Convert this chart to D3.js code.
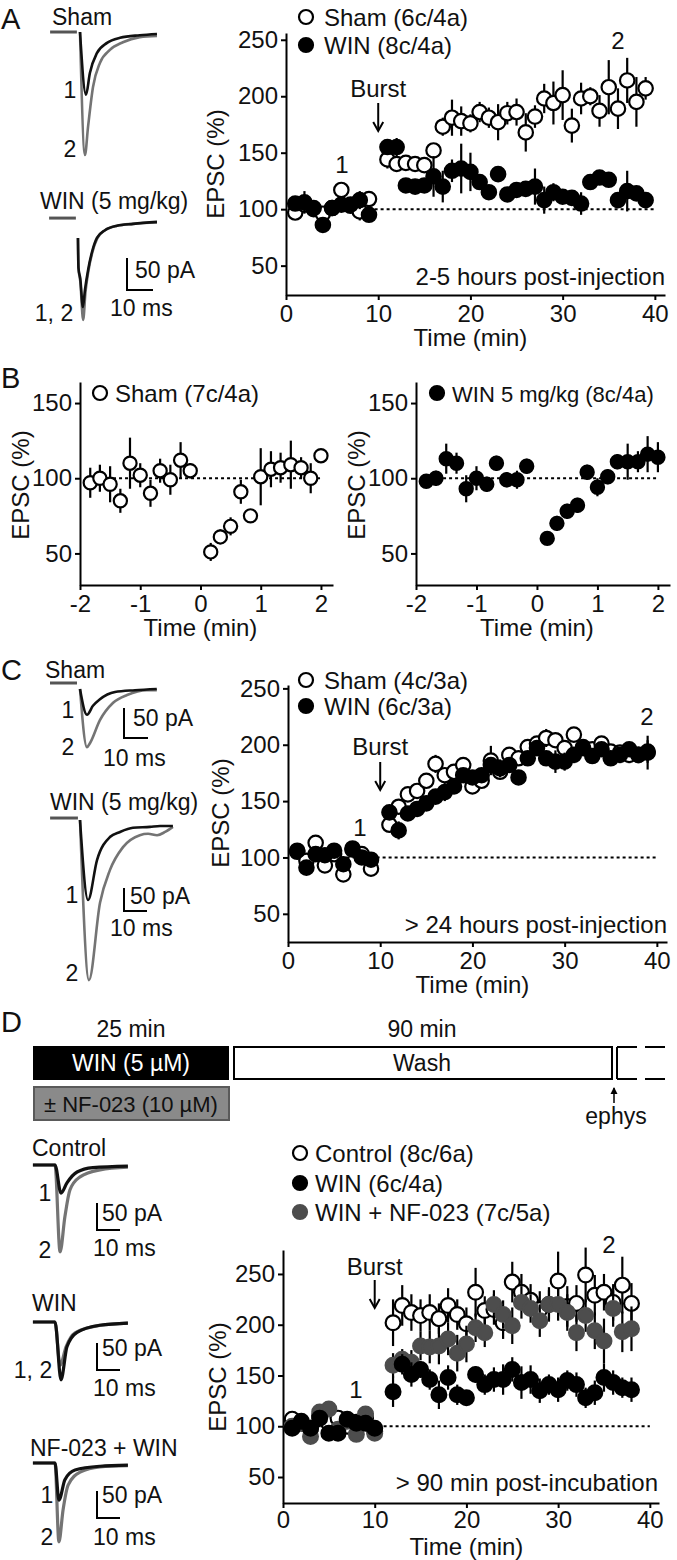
<!DOCTYPE html>
<html><head><meta charset="utf-8">
<script src="https://cdn.jsdelivr.net/npm/d3@7"></script>
<style>
body{margin:0;background:#fff;}
svg text{font-family:"Liberation Sans",Arial,Helvetica,sans-serif;fill:#111;}
</style></head><body>
<svg id="fig" width="677" height="1560" xmlns="http://www.w3.org/2000/svg"></svg>
<script>
// ---------------- DATA ----------------
// Panel A (2-5 h post-injection)
const timeA = [1,2,3,4,5,6,7,8,9,11,12,13,14,15,16,17,18,19,20,21,22,23,24,25,26,27,28,29,30,31,32,33,34,35,36,37,38,39];
const shamA = [97,104,100,96,101,117,103,98,109,144,140,141,140,139,152,173,181,178,176,186,181,177,185,186,168,182,198,194,201,174,198,200,187,208,189,214,195,207];
const shamAerr = [4,5,5,4,5,5,5,8,6,8,7,6,6,5,5,8,16,13,8,9,9,16,10,12,17,10,13,19,22,15,14,8,14,24,18,20,22,10];
const winA = [105,106,101,86,101,104,104,108,95,155,155,121,120,121,129,120,134,136,133,124,115,131,113,117,118,120,108,115,111,110,105,124,128,126,108,116,114,108];
const winAerr = [6,10,6,5,5,6,6,8,6,6,8,5,5,5,18,14,10,22,17,6,6,5,5,6,5,16,12,8,6,6,10,6,6,5,5,18,5,5];
// Panel B (burst time course)
const timeB = [-1.83,-1.67,-1.5,-1.33,-1.17,-1,-0.83,-0.67,-0.5,-0.33,-0.17,0.17,0.33,0.5,0.67,0.83,1,1.17,1.33,1.5,1.67,1.83,2];
const shamB = [97,100,96,85,110,102,90,105,99,112,105,51,61,68,91,75,101,106,107,109,107,100,115];
const shamBerr = [10,9,12,8,17,8,9,8,10,12,5,6,5,6,8,4,19,12,10,16,7,10,4];
const winB = [98,100,113,110,93,100,96,110,99,99,108,60,70,78,82,104,94,101,111,111,111,116,114];
const winBerr = [4,5,10,7,9,8,5,5,5,6,5,4,5,5,5,5,6,5,5,12,7,12,10];
// Panel C (>24 h post-injection)
const timeC = timeA;
const shamC = [105,97,113,93,103,85,108,103,90,129,145,156,159,168,183,173,176,182,163,168,186,176,191,188,198,201,206,204,197,209,198,196,201,194,193,191,191,193];
const shamCerr = [4,4,6,4,4,6,4,4,4,5,4,4,4,4,8,5,4,4,4,4,13,5,4,4,4,4,8,5,4,4,4,4,4,4,4,4,4,15];
const winC = [106,91,103,102,106,94,107,100,98,140,124,139,143,148,154,158,163,173,171,173,182,179,182,171,188,197,188,185,185,191,197,190,196,188,191,196,191,194];
const winCerr = [4,6,4,4,4,5,4,4,4,5,8,4,4,4,4,8,4,4,4,4,5,8,4,4,4,4,5,10,8,4,4,4,4,4,4,4,4,10];
// Panel D (>90 min post-incubation)
const timeD = [1,2,3,4,5,6,7,8,9,10,12,13,14,15,16,17,18,19,20,21,22,23,24,25,26,27,28,29,30,31,32,33,34,35,36,37,38];
const ctrlD = [107,103,98,110,103,108,100,104,108,95,202,219,212,209,212,206,219,210,201,232,214,215,202,242,232,224,215,220,243,218,221,249,229,232,222,239,221];
const ctrlDerr = [5,4,4,5,4,5,4,4,5,5,23,20,18,16,18,15,17,15,16,24,14,15,16,20,18,16,18,17,29,20,18,27,20,18,18,28,20];
const winD = [98,105,98,108,93,93,107,103,103,98,134,161,151,156,146,131,148,131,128,151,141,146,146,156,143,146,135,141,136,145,141,128,133,148,143,138,136];
const winDerr = [4,4,4,5,4,4,5,4,4,4,15,10,12,8,10,14,12,10,6,8,10,12,15,12,16,14,12,10,12,10,12,10,12,14,12,10,12];
const nfD = [100,103,90,114,117,97,105,92,112,93,160,166,163,179,178,179,186,172,181,197,192,220,210,199,222,216,204,220,220,212,192,209,194,184,216,193,196];
const nfDerr = [5,5,5,6,6,5,5,5,6,5,12,10,12,14,16,18,16,18,18,14,14,14,14,18,16,14,16,14,16,18,18,16,18,22,18,20,22];
// tick labels
const ticksTime = [0,10,20,30,40];
const ticksEPSC = [50,100,150,200,250];
const ticksTimeB = [-2,-1,0,1,2];
const ticksEPSCB = [50,100,150];
// schematic (panel D) durations
const protocolLabels = ["25 min","90 min"];
// Example EPSC traces: [time (ms), amplitude (pA, inward shown downward)]
const trA_sham1 = [[0,0],[2.3,98],[3.8,64],[6.5,33],[10.4,17],[15.4,9],[23,5],[29.6,3]];
const trA_sham2 = [[0,0],[1.9,192],[3.1,148],[5,86],[7.7,48],[11.5,28],[16.5,16],[23,8],[29.6,6]];
const trA_win1 = [[-0.4,28],[-0.2,75],[0.5,92],[1.5,136],[2.3,109],[3.5,78],[5,50],[6.9,28],[10,16],[14.6,9],[20.8,6],[30,3]];
const trA_win2 = [[-0.4,28],[-0.2,75],[0.5,96],[1.6,156],[2.5,112],[3.6,80],[5.1,51],[7,29],[10,16],[14.6,9],[20.8,6],[30,4]];
const trC_sham1 = [[0,0],[2.9,43],[5.4,28],[8.3,17],[14.6,5],[22.9,2],[32,0]];
const trC_sham2 = [[0,0],[2.9,97],[4.2,90],[8.3,52],[13.8,23],[19.6,10],[27.9,2],[32,2]];
const trC_win1 = [[0,0],[3.5,174],[7.4,87],[13,37],[17.4,26],[23,17],[30.4,15],[34.8,13],[40.4,13]];
const trC_win2 = [[0,0],[3.9,348],[8.7,180],[13,109],[18.7,59],[26,33],[29.6,30],[33.5,33],[37,26],[40.4,15]];
const trD_ctrl1 = [[-9.6,0],[0,0],[2.6,52],[5.2,33],[9.6,13],[16.5,5],[31.7,2]];
const trD_ctrl2 = [[-9.6,0],[0,0],[2.2,161],[4.3,96],[6.5,46],[10.9,22],[19.6,9],[31.7,4]];
const trD_win1 = [[-9.6,0],[0,0],[2.6,107],[5.2,46],[9.6,19],[19.6,6],[31.7,2]];
const trD_win2 = [[-9.6,0],[0,0],[2.2,80],[4.8,46],[8.7,20],[19.6,6],[31.7,2]];
const trD_nf1 = [[-9.6,0],[0,0],[1.7,69],[4.3,31],[8.7,13],[19.6,6],[31.7,4]];
const trD_nf2 = [[-9.6,0],[0,0],[1.7,146],[3.5,87],[5.7,41],[10.9,17],[19.6,7],[31.7,5]];

// ---------------- DRAWING ----------------
const svg = d3.select('#fig');
const FS = 24;
const BLACK = '#111', GRAY = '#4d4d4d', TRGRAY = '#747474';

function txt(x, y, s, o = {}) {
  return svg.append('text').attr('x', x).attr('y', y).text(s)
    .attr('font-size', o.size || FS).attr('text-anchor', o.anchor || 'start')
    .style('fill', o.fill || '#111');
}
function styleAxis(g) {
  g.attr('font-family', null).attr('font-size', null);
  g.select('.domain').attr('stroke', '#000').attr('stroke-width', 2);
  g.selectAll('.tick line').attr('stroke', '#000').attr('stroke-width', 2);
  g.selectAll('.tick text').attr('font-size', FS).style('fill', '#111');
}
function drawPlot(p) {
  const x = d3.scaleLinear().domain(p.xDom).range(p.xRange);
  const y = d3.scaleLinear().domain(p.yDom).range(p.yRange);
  const gx = svg.append('g').attr('transform', `translate(0,${p.yRange[0]})`)
    .call(d3.axisBottom(x).tickValues(p.xTicks).tickFormat(d => String(d)).tickSize(5).tickSizeOuter(0).tickPadding(p.xPad || 5));
  styleAxis(gx);
  const gy = svg.append('g').attr('transform', `translate(${p.xRange[0]},0)`)
    .call(d3.axisLeft(y).tickValues(p.yTicks).tickFormat(d => String(d)).tickSize(5).tickSizeOuter(0).tickPadding(3));
  styleAxis(gy);
  // dotted 100% line
  svg.append('line').attr('x1', x(p.dot[0])).attr('x2', x(p.dot[1]))
    .attr('y1', y(100)).attr('y2', y(100))
    .attr('stroke', '#000').attr('stroke-width', 2).attr('stroke-dasharray', '3,3');
  p.series.forEach(s => {
    const g = svg.append('g');
    g.selectAll('line').data(s.t).join('line')
      .attr('x1', d => x(d)).attr('x2', d => x(d))
      .attr('y1', (d, i) => y(s.v[i] - s.e[i])).attr('y2', (d, i) => y(s.v[i] + s.e[i]))
      .attr('stroke', '#000').attr('stroke-width', 2.2);
    g.selectAll('circle').data(s.t).join('circle')
      .attr('cx', d => x(d)).attr('cy', (d, i) => y(s.v[i])).attr('r', p.r)
      .attr('fill', s.fill).attr('stroke', s.stroke).attr('stroke-width', 2.2);
  });
  // axis titles
  txt(x(p.titleX), p.timeY, 'Time (min)', {anchor: 'middle'});
  svg.append('text').attr('transform', `translate(${p.epscX},${p.epscY}) rotate(-90)`)
    .attr('text-anchor', 'middle').attr('dominant-baseline', 'central').attr('font-size', FS).text('EPSC (%)');
  return {x, y};
}
function legend(cx, cy, fill, stroke, label, tx, size) {
  svg.append('circle').attr('cx', cx).attr('cy', cy).attr('r', 7)
    .attr('fill', fill).attr('stroke', stroke).attr('stroke-width', 2.2);
  txt(tx, cy + 8.5, label, {size: size || FS});
}
function burst(xc, ty, a0, a1) {
  txt(xc, ty, 'Burst', {anchor: 'middle'});
  svg.append('line').attr('x1', xc).attr('x2', xc).attr('y1', a0).attr('y2', a1 - 1)
    .attr('stroke', '#000').attr('stroke-width', 2);
  svg.append('path').attr('d', `M${xc - 5},${a1 - 9}L${xc},${a1}L${xc + 5},${a1 - 9}`)
    .attr('fill', 'none').attr('stroke', '#000').attr('stroke-width', 2);
}
function traces(t) {
  const xs = d3.scaleLinear().domain([0, 10]).range([t.ox, t.ox + t.pxms * 10]);
  const ys = d3.scaleLinear().domain([0, 50]).range([t.oy, t.oy + t.pxpa * 50]);
  const line = d3.line().x(d => xs(d[0])).y(d => ys(d[1])).curve(d3.curveMonotoneX);
  if (t.base) svg.append('line').attr('x1', xs(t.base[0])).attr('x2', xs(t.base[1]))
      .attr('y1', ys(t.base[2])).attr('y2', ys(t.base[2]))
      .attr('stroke', '#555').attr('stroke-width', 3);
  svg.append('path').attr('d', line(t.gray)).attr('fill', 'none').attr('stroke', TRGRAY)
    .attr('stroke-width', t.w).attr('stroke-linejoin', 'round');
  svg.append('path').attr('d', line(t.black)).attr('fill', 'none').attr('stroke', BLACK)
    .attr('stroke-width', t.w).attr('stroke-linejoin', 'round');
  // scale bar (50 pA, 10 ms)
  if (t.sb) {
    const h = ys(50) - ys(0), w = xs(10) - xs(0);
    svg.append('path').attr('d', `M${t.sb[0]},${t.sb[1] - h}V${t.sb[1]}H${t.sb[0] + w}`)
      .attr('fill', 'none').attr('stroke', '#000').attr('stroke-width', 2);
  }
}

// ===== Panel A =====
txt(1, 29, 'A', {size: 29});
txt(52, 25, 'Sham', {size: 23});
traces({ox: 80, oy: 32, pxms: 2.6, pxpa: 0.64, w: 2.6, base: [-11.5, -1.2, 0],
  black: trA_sham1, gray: trA_sham2, sb: [127, 290]});
txt(70, 98, '1', {anchor: 'middle', size: 23});
txt(70, 157, '2', {anchor: 'middle', size: 23});
txt(40, 209, 'WIN (5 mg/kg)', {size: 23});
traces({ox: 79, oy: 220, pxms: 2.6, pxpa: 0.64, w: 2.6, base: [-11.5, -1.2, -3],
  black: trA_win1, gray: trA_win2});
txt(135, 278, '50 pA', {size: 23});
txt(110, 316, '10 ms', {size: 23});
txt(54, 321, '1, 2', {anchor: 'middle', size: 23});

const pA = drawPlot({xDom: [0, 41.1], xRange: [286, 665], yDom: [24, 256], yRange: [295, 33],
  xTicks: ticksTime, yTicks: ticksEPSC, dot: [0.5, 40], r: 7.2,
  titleX: 20, timeY: 346, epscX: 215, epscY: 164,
  series: [
    {t: timeA, v: shamA, e: shamAerr, fill: '#fff', stroke: '#000'},
    {t: timeA, v: winA, e: winAerr, fill: '#000', stroke: '#000'}]});
legend(306, 17, '#fff', '#000', 'Sham (6c/4a)', 324);
legend(306, 45, '#000', '#000', 'WIN (8c/4a)', 324);
burst(pA.x(10), 97, 103, 131);
txt(342, 173, '1', {anchor: 'middle'});
txt(618, 49, '2', {anchor: 'middle'});
txt(665, 285, '2-5 hours post-injection', {anchor: 'end'});

// ===== Panel B =====
txt(1, 388, 'B', {size: 29});
drawPlot({xDom: [-2, 2.2], xRange: [80, 333], yDom: [29, 164], yRange: [585, 382],
  xTicks: ticksTimeB, yTicks: ticksEPSCB, dot: [-1.85, 2], r: 6.6,
  titleX: 0, timeY: 636, epscX: 20, epscY: 485,
  series: [{t: timeB, v: shamB, e: shamBerr, fill: '#fff', stroke: '#000'}]});
legend(100, 393, '#fff', '#000', 'Sham (7c/4a)', 115);
drawPlot({xDom: [-2, 2.2], xRange: [416, 670], yDom: [29, 164], yRange: [585, 382],
  xTicks: ticksTimeB, yTicks: ticksEPSCB, dot: [-1.85, 2], r: 6.6,
  titleX: 0, timeY: 636, epscX: 356, epscY: 485,
  series: [{t: timeB, v: winB, e: winBerr, fill: '#000', stroke: '#000'}]});
legend(437, 393, '#000', '#000', 'WIN 5 mg/kg (8c/4a)', 452, 22);

// ===== Panel C =====
txt(1, 680, 'C', {size: 29});
txt(45, 678, 'Sham', {size: 23});
traces({ox: 80, oy: 689, pxms: 2.4, pxpa: 0.6, w: 2.6, base: [-12.5, -1.25, -10],
  black: trC_sham1, gray: trC_sham2, sb: [124, 738]});
txt(68, 718, '1', {anchor: 'middle', size: 23});
txt(68, 755, '2', {anchor: 'middle', size: 23});
txt(133, 726, '50 pA', {size: 23});
txt(103, 766, '10 ms', {size: 23});
txt(50, 810, 'WIN (5 mg/kg)', {size: 23});
traces({ox: 80, oy: 820, pxms: 2.3, pxpa: 0.46, w: 2.6, base: [-13, -0.9, -4.3],
  black: trC_win1, gray: trC_win2, sb: [124, 911]});
txt(72, 903, '1', {anchor: 'middle', size: 23});
txt(72, 981, '2', {anchor: 'middle', size: 23});
txt(130, 904, '50 pA', {size: 23});
txt(110, 936, '10 ms', {size: 23});

const pC = drawPlot({xDom: [0, 41.1], xRange: [288, 667], yDom: [25, 253], yRange: [942, 685],
  xTicks: ticksTime, yTicks: ticksEPSC, dot: [0.5, 40], r: 7.2,
  titleX: 20, timeY: 993, epscX: 220, epscY: 813,
  series: [
    {t: timeC, v: shamC, e: shamCerr, fill: '#fff', stroke: '#000'},
    {t: timeC, v: winC, e: winCerr, fill: '#000', stroke: '#000'}]});
legend(306, 680, '#fff', '#000', 'Sham (4c/3a)', 324);
legend(306, 706, '#000', '#000', 'WIN (6c/3a)', 324);
burst(pC.x(10), 755, 762, 790);
txt(360, 836, '1', {anchor: 'middle'});
txt(647, 725, '2', {anchor: 'middle'});
txt(667, 933, '> 24 hours post-injection', {anchor: 'end'});

// ===== Panel D schematic =====
txt(1, 1032, 'D', {size: 29});
txt(131, 1037, protocolLabels[0], {anchor: 'middle', size: 23});
txt(422, 1037, protocolLabels[1], {anchor: 'middle', size: 23});
svg.append('rect').attr('x', 33).attr('y', 1046).attr('width', 196).attr('height', 34).attr('fill', '#000');
txt(131, 1071, 'WIN (5 µM)', {anchor: 'middle', fill: '#fff', size: 23});
svg.append('rect').attr('x', 234).attr('y', 1047).attr('width', 378).attr('height', 32)
  .attr('fill', '#fff').attr('stroke', '#000').attr('stroke-width', 2);
txt(422, 1071, 'Wash', {anchor: 'middle', size: 23});
svg.append('path').attr('d', 'M617,1047V1079').attr('stroke', '#000').attr('stroke-width', 2);
svg.append('path').attr('d', 'M617,1047H667M617,1079H667').attr('stroke', '#000').attr('stroke-width', 2).attr('stroke-dasharray', '20,8');
svg.append('rect').attr('x', 34).attr('y', 1087).attr('width', 195).attr('height', 33)
  .attr('fill', '#8a8a8a').attr('stroke', '#5a5a5a').attr('stroke-width', 2);
txt(131, 1112, '± NF-023 (10 µM)', {anchor: 'middle', size: 22});
svg.append('line').attr('x1', 614).attr('x2', 614).attr('y1', 1103).attr('y2', 1088).attr('stroke', '#000').attr('stroke-width', 1.5);
svg.append('path').attr('d', 'M610.5,1094L614,1087L617.5,1094Z').attr('fill', '#000');
txt(616, 1124, 'ephys', {anchor: 'middle', size: 23});

// ===== Panel D traces =====
txt(32, 1156, 'Control', {size: 23});
traces({ox: 55, oy: 1165, pxms: 2.3, pxpa: 0.54, w: 3.2, black: trD_ctrl1, gray: trD_ctrl2, sb: [97, 1230]});
txt(45, 1201, '1', {anchor: 'middle', size: 23});
txt(45, 1258, '2', {anchor: 'middle', size: 23});
txt(102, 1221, '50 pA', {size: 23});
txt(93, 1256, '10 ms', {size: 23});
txt(32, 1311, 'WIN', {size: 23});
traces({ox: 55, oy: 1322, pxms: 2.3, pxpa: 0.54, w: 3.2, black: trD_win1, gray: trD_win2, sb: [97, 1370]});
txt(33, 1378, '1, 2', {anchor: 'middle', size: 23});
txt(102, 1356, '50 pA', {size: 23});
txt(93, 1396, '10 ms', {size: 23});
txt(30, 1456, 'NF-023 + WIN', {size: 23});
traces({ox: 55, oy: 1463, pxms: 2.3, pxpa: 0.54, w: 3.2, black: trD_nf1, gray: trD_nf2, sb: [97, 1518]});
txt(47, 1503, '1', {anchor: 'middle', size: 23});
txt(47, 1545, '2', {anchor: 'middle', size: 23});
txt(102, 1503, '50 pA', {size: 23});
txt(93, 1545, '10 ms', {size: 23});

// ===== Panel D plot =====
const pD = drawPlot({xDom: [0, 41], xRange: [283, 659], yDom: [24.4, 273.6], yRange: [1503, 1250],
  xTicks: ticksTime, yTicks: ticksEPSC, dot: [0.5, 40], r: 7.4, xPad: 3,
  titleX: 20, timeY: 1555, epscX: 217, epscY: 1377,
  series: [
    {t: timeD, v: ctrlD, e: ctrlDerr, fill: '#fff', stroke: '#000'},
    {t: timeD, v: nfD, e: nfDerr, fill: GRAY, stroke: GRAY},
    {t: timeD, v: winD, e: winDerr, fill: '#000', stroke: '#000'}]});
legend(300, 1153, '#fff', '#000', 'Control (8c/6a)', 315);
legend(300, 1183, '#000', '#000', 'WIN (6c/4a)', 315);
legend(300, 1212, GRAY, GRAY, 'WIN + NF-023 (7c/5a)', 315);
burst(pD.x(10), 1275, 1280, 1308);
txt(356, 1398, '1', {anchor: 'middle'});
txt(609, 1253, '2', {anchor: 'middle'});
txt(658, 1491, '> 90 min post-incubation', {anchor: 'end'});
</script></body></html>
